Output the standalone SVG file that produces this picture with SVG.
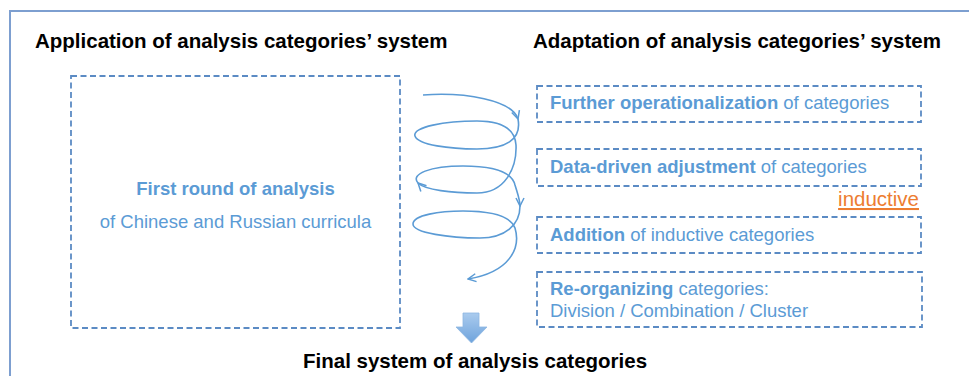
<svg xmlns="http://www.w3.org/2000/svg" width="969" height="376" viewBox="0 0 969 376">
<defs>
<style>
.frame{fill:none;stroke:#7d9fd0;stroke-width:2}
.box{fill:none;stroke:#5b8bc4;stroke-width:1.8;stroke-dasharray:6 3.5}
.title{font-family:"Liberation Sans",Arial,sans-serif;font-size:20.5px;font-weight:bold;fill:#000}
.t{font-family:"Liberation Sans",Arial,sans-serif;font-size:18.5px;fill:#5b9bd5}
.b{font-weight:bold}
.ind{font-family:"Liberation Sans",Arial,sans-serif;font-size:20.5px;fill:#ed7d31;text-decoration:underline}
.sp{fill:none;stroke:#5b9bd5;stroke-width:1.6}
</style>
<marker id="ah" viewBox="0 0 10 10" refX="9" refY="5" markerWidth="10" markerHeight="10" markerUnits="userSpaceOnUse" orient="auto">
<path d="M1,1 L9,5 L1,9" fill="none" stroke="#5b9bd5" stroke-width="1.5"/>
</marker>
<linearGradient id="ga" x1="0" y1="0" x2="0" y2="1">
<stop offset="0" stop-color="#aacbee"/>
<stop offset="1" stop-color="#6ea3dc"/>
</linearGradient>
</defs>
<rect class="frame" x="10" y="11" width="1000" height="400"/>
<text class="title" x="35" y="48">Application of analysis categories’ system</text>
<text class="title" x="533" y="48">Adaptation of analysis categories’ system</text>

<g id="first-round">
<rect class="box" x="71" y="76" width="329" height="252"/>
<text class="t b" x="235.5" y="195" text-anchor="middle">First round of analysis</text>
<text class="t" x="235.5" y="228" text-anchor="middle">of Chinese and Russian curricula</text>
</g>

<g id="further">
<rect class="box" x="537" y="86" width="384" height="36"/>
<text class="t" x="550" y="109"><tspan class="b">Further operationalization</tspan> of categories</text>
</g>
<g id="datadriven">
<rect class="box" x="537" y="149" width="384" height="37"/>
<text class="t" x="550" y="173"><tspan class="b">Data-driven adjustment</tspan> of categories</text>
</g>
<g id="inductive-label">
<text class="ind" x="919" y="206" text-anchor="end">inductive</text>
</g>
<g id="addition">
<rect class="box" x="537" y="217" width="384" height="36"/>
<text class="t" x="550" y="241"><tspan class="b">Addition</tspan> of inductive categories</text>
</g>
<g id="reorganizing">
<rect class="box" x="537" y="272" width="385" height="55"/>
<text class="t" x="550" y="295"><tspan class="b">Re-organizing</tspan> categories:</text>
<text class="t" x="550" y="317">Division / Combination / Cluster</text>
</g>

<g id="connectors">
<path class="sp" marker-end="url(#ah)" d="M423,95 C465,92 512,100 518,119"/>
<path class="sp" marker-end="url(#ah)" d="M518,119 C522,140 505,149 477,149 C450,149 418,145 415,136 C412,127 445,121 477,121 C503,121 515,130 516,145 C517,168 505,193 477,193 C452,193 425,190 418,183"/>
<path class="sp" marker-end="url(#ah)" d="M418,183 C410,174 430,166 463,166 C495,166 512,172 515,185 C518,195 520,200 520,206"/>
<path class="sp" marker-end="url(#ah)" d="M520,206 C520,225 505,238 480,238 C450,238 413,233 413,224 C413,215 440,211 463,211 C490,211 510,215 515,228 C521,248 510,272 468,279"/>
</g>

<g id="final">
<path d="M463,313 L479,313 L479,327 L487,327 L471.5,343 L456,327 L463,327 Z" fill="url(#ga)" stroke="#8db6e2" stroke-width="0.8"/>
<text class="title" x="303" y="368">Final system of analysis categories</text>
</g>
</svg>
